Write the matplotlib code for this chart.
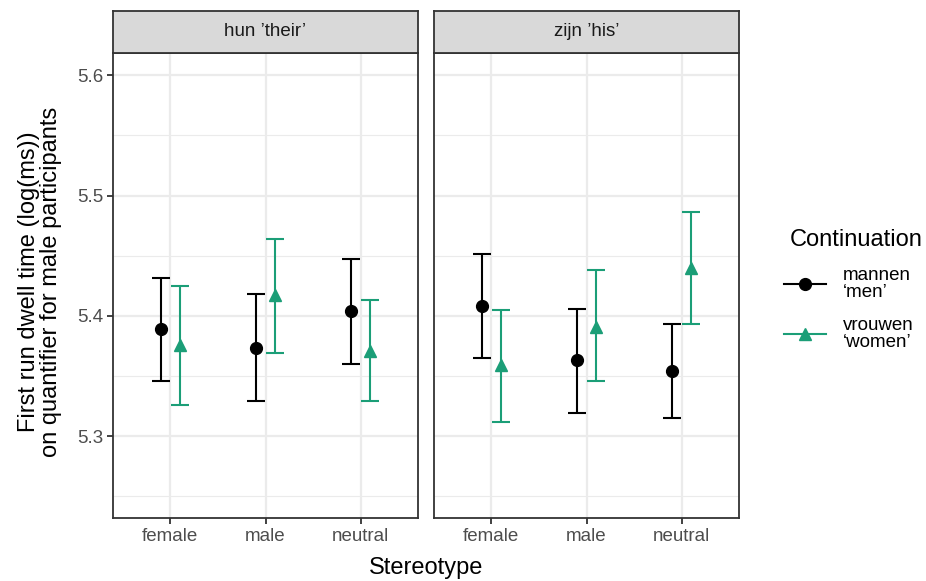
import numpy as np
import matplotlib
matplotlib.use('Agg')
import matplotlib.pyplot as plt
from matplotlib.lines import Line2D

plt.rcParams['font.family'] = ['Liberation Sans', 'DejaVu Sans']

# donnees
stereotypes = ['female', 'male', 'neutral']
facets = ["hun \u2019their\u2019", "zijn \u2019his\u2019"]
continuations = ['mannen\n\u2018men\u2019', 'vrouwen\n\u2018women\u2019']

# hun 'their'
hun_men_mean = [5.389, 5.373, 5.404]
hun_men_low = [5.346, 5.329, 5.360]
hun_men_high = [5.431, 5.418, 5.447]
hun_women_mean = [5.376, 5.417, 5.371]
hun_women_low = [5.326, 5.369, 5.329]
hun_women_high = [5.425, 5.464, 5.413]

# zijn 'his'
zijn_men_mean = [5.408, 5.363, 5.354]
zijn_men_low = [5.365, 5.319, 5.315]
zijn_men_high = [5.451, 5.406, 5.393]
zijn_women_mean = [5.359, 5.391, 5.440]
zijn_women_low = [5.312, 5.346, 5.393]
zijn_women_high = [5.405, 5.438, 5.486]

y_ticks = [5.3, 5.4, 5.5, 5.6]
y_minor = [5.25, 5.35, 5.45, 5.55]

couleurs = ['black', '#1B9E77']
marqueurs = ['o', '^']
decalage = [-0.1, 0.1]

grid_col = '#EBEBEB'
border_col = '#333333'
text_col = '#4D4D4D'

W, H = 926, 581
fig = plt.figure(figsize=(W / 100, H / 100), dpi=100)

panel_bottom = 1 - 518 / H
panel_h = (518 - 53.3) / H
panel_w = 305 / W
lefts = [113 / W, 434 / W]
strip_h = (53.3 - 10.7) / H

series = [
    [(hun_men_mean, hun_men_low, hun_men_high), (hun_women_mean, hun_women_low, hun_women_high)],
    [(zijn_men_mean, zijn_men_low, zijn_men_high), (zijn_women_mean, zijn_women_low, zijn_women_high)],
]

x = np.arange(len(stereotypes)) + 1

for i, left in enumerate(lefts):
    ax = fig.add_axes([left, panel_bottom, panel_w, panel_h])
    ax.set_xlim(0.4, 3.6)
    ax.set_ylim(5.2318, 5.6183)
    ax.set_xticks(x)
    ax.set_xticklabels(stereotypes)
    ax.set_yticks(y_ticks)
    ax.set_yticks(y_minor, minor=True)
    ax.grid(True, which='major', color=grid_col, lw=1.6, zorder=0)
    ax.grid(True, which='minor', axis='y', color=grid_col, lw=0.8, zorder=0)
    ax.set_axisbelow(True)
    for s in ax.spines.values():
        s.set_color(border_col)
        s.set_linewidth(1.3)
    ax.tick_params(which='major', length=4, width=1.3, color=border_col,
                   labelsize=13.5, labelcolor=text_col, pad=3)
    ax.tick_params(which='minor', length=0)
    if i == 1:
        ax.set_yticklabels([])
        ax.tick_params(axis='y', length=0)
    else:
        ax.set_yticklabels([f'{v:.1f}' for v in y_ticks])

    for j, (moy, bas, haut) in enumerate(series[i]):
        moy = np.array(moy)
        err = [moy - np.array(bas), np.array(haut) - moy]
        ax.errorbar(x + decalage[j], moy, yerr=err, fmt=marqueurs[j], color=couleurs[j],
                    ms=8.5, elinewidth=1.5, capsize=6.5, capthick=1.5, zorder=3)

    # bandeau du facet
    sax = fig.add_axes([left, panel_bottom + panel_h, panel_w, strip_h])
    sax.set_xticks([])
    sax.set_yticks([])
    sax.set_facecolor('#D9D9D9')
    for s in sax.spines.values():
        s.set_color(border_col)
        s.set_linewidth(1.3)
    sax.text(0.5, 0.5, facets[i], ha='center', va='center', fontsize=13.5,
             color='#1A1A1A', transform=sax.transAxes)

fig.text((113 + 739) / 2 / W, 1 - 568 / H, 'Stereotype', ha='center', va='center', fontsize=17)
fig.text(40 / W, 1 - 282 / H,
         'First run dwell time (log(ms))\non quantifier for male participants',
         ha='center', va='center', rotation=90, fontsize=17, linespacing=1.05)

# legende construite a la main pour coller au rendu ggplot
fig.text(790 / W, 1 - 240 / H, 'Continuation', ha='left', va='center', fontsize=17)
key_y = [284.5, 333.6]
for j in range(2):
    yk = 1 - key_y[j] / H
    fig.add_artist(Line2D([783.5 / W, 805 / W, 826 / W], [yk, yk, yk],
                          color=couleurs[j], lw=1.5, marker=marqueurs[j],
                          ms=8.5, markevery=[1], transform=fig.transFigure))
    fig.text(843 / W, yk, continuations[j], ha='left', va='center',
             fontsize=13.5, linespacing=1.0)

fig.savefig('out.png', dpi=100)
